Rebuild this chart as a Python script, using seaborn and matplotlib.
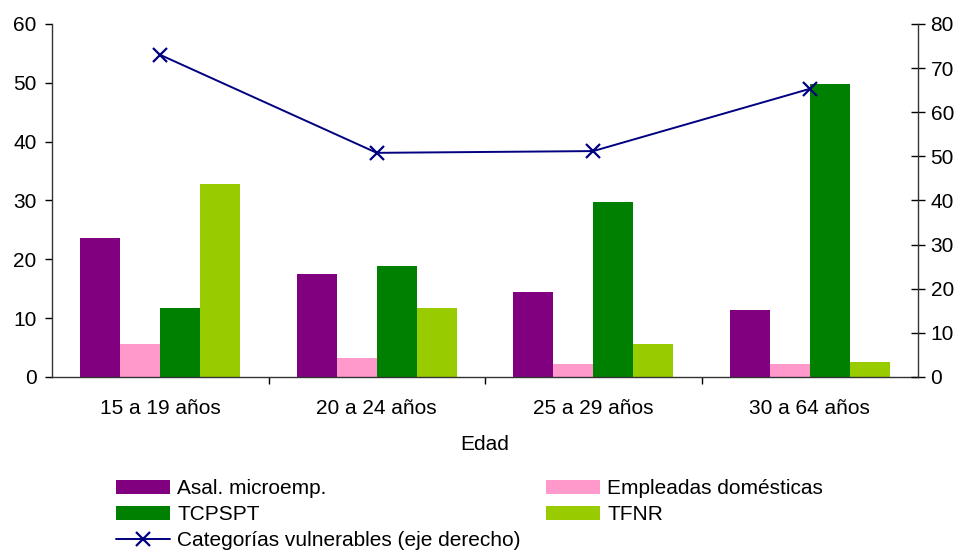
import seaborn as sns
import matplotlib.pyplot as plt
import pandas as pd
from matplotlib.ticker import FixedLocator

# Data
edades = ["15 a 19 años", "20 a 24 años", "25 a 29 años", "30 a 64 años"]
asal_microemp = [23.6, 17.5, 14.5, 11.4]
empleadas_domesticas = [5.6, 3.2, 2.2, 2.2]
tcpspt = [11.7, 18.9, 29.8, 49.8]
tfnr = [32.8, 11.7, 5.6, 2.6]
vulnerables = [73.0, 50.8, 51.2, 65.3]

series_names = ["Asal. microemp.", "Empleadas domésticas", "TCPSPT", "TFNR"]
series_colors = ["#800080", "#FF99CC", "#008000", "#99CC00"]
line_label = "Categorías vulnerables (eje derecho)"

df = pd.DataFrame({
    "Edad": edades * 4,
    "serie": [s for s in series_names for _ in edades],
    "valor": asal_microemp + empleadas_domesticas + tcpspt + tfnr,
})

sns.set_theme(style="white")
plt.rcParams["font.family"] = ["Liberation Sans", "DejaVu Sans"]
plt.rcParams["text.color"] = "black"
plt.rcParams["axes.labelcolor"] = "black"
fs = 15

fig = plt.figure(figsize=(9.61, 5.55), dpi=100)
ax = fig.add_axes([52 / 961, 1 - 377 / 555, (918 - 52) / 961, (377 - 24) / 555])

sns.barplot(
    data=df, x="Edad", y="valor", hue="serie",
    palette=series_colors, width=0.74, gap=0,
    saturation=1, edgecolor="none", legend=True, ax=ax,
)
ax.set_xlim(-0.5, 3.5)
ax.set_ylim(0, 60)
ax.set_yticks(range(0, 61, 10))
ax.set_xlabel("Edad", fontsize=fs, labelpad=12)
ax.set_ylabel("")
ax.tick_params(axis="y", direction="out", length=5, width=1, colors="black",
               labelsize=fs, pad=6, left=True)
ax.tick_params(axis="x", which="major", length=0, labelsize=fs, pad=16,
               labelcolor="black")
ax.xaxis.set_minor_locator(FixedLocator([0.5, 1.5, 2.5]))
ax.tick_params(axis="x", which="minor", direction="out", length=5, width=1,
               color="black", bottom=True)
for side in ["left", "bottom"]:
    ax.spines[side].set_color("#333333")
    ax.spines[side].set_linewidth(1)
ax.spines["top"].set_visible(False)
ax.spines["right"].set_visible(False)

ax2 = ax.twinx()
sns.lineplot(
    x=list(range(len(edades))), y=vulnerables, ax=ax2,
    color="#000080", linewidth=1.4, marker="x", markersize=10,
    markeredgewidth=1.6, markeredgecolor="#000080", label=line_label,
    legend=False,
)
ax2.set_ylim(0, 80)
ax2.set_yticks(range(0, 81, 10))
ax2.set_xlim(-0.5, 3.5)
ax2.tick_params(axis="y", direction="inout", length=10, width=1,
                colors="black", labelsize=fs, pad=4, right=True)
ax2.spines["top"].set_visible(False)
ax2.spines["left"].set_visible(False)
ax2.spines["bottom"].set_visible(False)
ax2.spines["right"].set_color("#333333")
ax2.spines["right"].set_linewidth(1)

# Legend below the plot, filled row by row
bar_handles, bar_labels = ax.get_legend_handles_labels()
ax.get_legend().remove()
line_handles, line_labels = ax2.get_legend_handles_labels()
handles = [bar_handles[0], bar_handles[2], line_handles[0], bar_handles[1], bar_handles[3]]
labels = [bar_labels[0], bar_labels[2], line_labels[0], bar_labels[1], bar_labels[3]]
fig.legend(
    handles, labels, loc="upper left", bbox_to_anchor=(116 / 961, 1 - 479 / 555),
    ncol=2, frameon=False, fontsize=fs, handlelength=2.6, handleheight=0.65,
    handletextpad=0.35, labelspacing=0.33, columnspacing=1.2, borderpad=0,
    borderaxespad=0,
)

fig.savefig("out.png", dpi=100)
